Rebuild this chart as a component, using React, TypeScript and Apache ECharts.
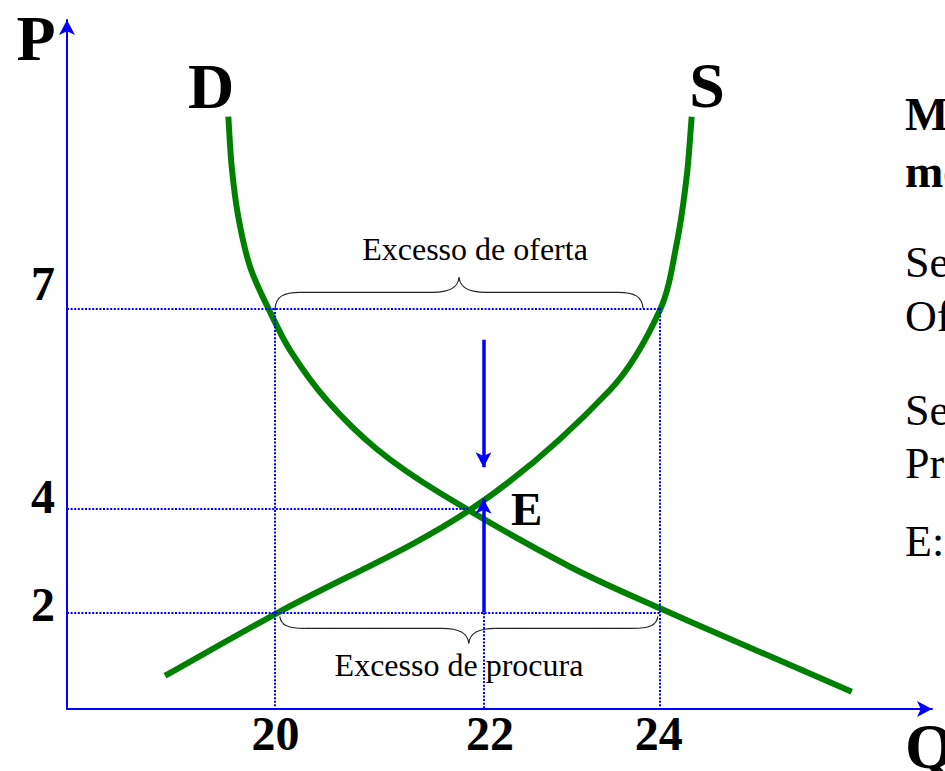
import React, { useEffect, useRef } from 'react';
import * as echarts from 'echarts';

// Quantity axis (schematic units 0..100) – tick labels and where they sit
const quantityTicks = ['20', '22', '24'];
const quantityTickPos = [24.05, 48.15, 68.5];
const quantityLabelPos = [24.1, 48.9, 68.4];

// Price axis (schematic units 0..100)
const priceTicks = ['7', '4', '2'];
const priceTickPos = [58.15, 29.13, 14.03];
const priceLabelPos = [61.76, 30.9, 15.17];

// Demand curve D
const demandCurve = [
  [18.65, 85.97], [19.04, 78.71], [19.8, 71.45], [21.16, 64.19], [23.27, 58.16],
  [25.78, 52.1], [30.02, 44.85], [35.8, 37.74], [43.12, 31.35], [58.15, 20.65],
  [68.55, 14.62], [90.72, 2.51],
];

// Supply curve S
const supplyCurve = [
  [11.33, 4.83], [24.24, 13.89], [46.82, 29.1], [62.77, 46.3], [68.55, 57.91],
  [70.49, 67.59], [71.64, 77.26], [72.22, 85.97],
];

// Equilibrium point E
const equilibrium = [46.4, 29.13];

// Adjustment arrows at Q = 22 (price-axis values: from, to)
const downArrow = [53.6, 35.1];
const upArrow = [14.03, 30.5];

// Braces (quantity-axis extent)
const supplyExcessBrace = [24.05, 66.6];
const demandExcessBrace = [24.6, 68.3];

const SERIF = "'Liberation Serif', 'DejaVu Serif', serif";
const BLUE = '#0000ff';
const GREEN = '#008000';

// Smooth curve through the points (tangent-length-limited cubic spline), drawn via api.coord
const curveSeries = (name: string, pts: number[][]) => ({
  name,
  type: 'custom',
  coordinateSystem: 'cartesian2d',
  data: pts,
  encode: { x: 0, y: 1 },
  z: 2,
  silent: true,
  renderItem: (params: any, api: any) => {
    if (params.dataIndex !== 0) return null;
    const P: number[][] = pts.map((p) => api.coord(p));
    const unit = (a: number[], b: number[]) => {
      const dx = b[0] - a[0];
      const dy = b[1] - a[1];
      const l = Math.hypot(dx, dy) || 1;
      return [dx / l, dy / l];
    };
    let d = `M${P[0][0]},${P[0][1]}`;
    for (let i = 0; i < P.length - 1; i++) {
      const p0 = P[i - 1] || P[i];
      const p1 = P[i];
      const p2 = P[i + 1];
      const p3 = P[i + 2] || P[i + 1];
      const len = Math.hypot(p2[0] - p1[0], p2[1] - p1[1]);
      const t1 = unit(p0, p2);
      const t2 = unit(p1, p3);
      const c1 = [p1[0] + (t1[0] * len) / 3, p1[1] + (t1[1] * len) / 3];
      const c2 = [p2[0] - (t2[0] * len) / 3, p2[1] - (t2[1] * len) / 3];
      d += ` C${c1[0]},${c1[1]} ${c2[0]},${c2[1]} ${p2[0]},${p2[1]}`;
    }
    return {
      type: 'path',
      shape: { pathData: d },
      style: { stroke: GREEN, lineWidth: 6, fill: 'none' },
    };
  },
});

export default function App() {
  const ref = useRef<HTMLDivElement>(null);

  useEffect(() => {
    const chart = echarts.init(ref.current!, null, { renderer: 'svg' });
    const [q20, q22, q24] = quantityTickPos;
    const [p7, p4, p2] = priceTickPos;

    const labelFont = { fontFamily: SERIF, fontWeight: 'bold' as const, fontSize: 48, color: '#000' };
    const guideStyle = { color: BLUE, width: 2, type: [2, 1.6] as number[] };

    chart.setOption({
      animation: false,
      grid: { left: 67, top: 20, right: 13, bottom: 62, containLabel: false },
      xAxis: {
        type: 'value', min: 0, max: 100,
        axisLine: { show: true, lineStyle: { color: BLUE, width: 2 }, symbol: ['none', 'arrow'], symbolSize: [12, 15] },
        axisTick: { show: false },
        splitLine: { show: false },
        axisLabel: {
          ...labelFont,
          margin: 0,
          customValues: quantityLabelPos,
          formatter: (v: number) => {
            const i = quantityLabelPos.indexOf(v);
            return i >= 0 ? quantityTicks[i] : '';
          },
        },
      },
      yAxis: {
        type: 'value', min: 0, max: 100,
        axisLine: { show: true, lineStyle: { color: BLUE, width: 2 }, symbol: ['none', 'arrow'], symbolSize: [12, 15] },
        axisTick: { show: false },
        splitLine: { show: false },
        axisLabel: {
          ...labelFont,
          margin: 12,
          customValues: priceLabelPos,
          formatter: (v: number) => {
            const i = priceLabelPos.indexOf(v);
            return i >= 0 ? priceTicks[i] : '';
          },
        },
      },
      series: [
        {
          name: 'guides', type: 'line', data: [], z: 1, silent: true,
          markLine: {
            silent: true, symbol: 'none', label: { show: false },
            lineStyle: guideStyle,
            emphasis: { disabled: true },
            data: [
              [{ coord: [0, p7] }, { coord: [q24, p7] }],
              [{ coord: [0, p4] }, { coord: [equilibrium[0], p4] }],
              [{ coord: [0, p2] }, { coord: [q24, p2] }],
              [{ coord: [q20, p7] }, { coord: [q20, 0] }],
              [{ coord: [q22, p4] }, { coord: [q22, 0] }],
              [{ coord: [q24, p7] }, { coord: [q24, 0] }],
            ],
          },
        },
        curveSeries('D', demandCurve),
        curveSeries('S', supplyCurve),
        {
          name: 'arrows', type: 'line', data: [], z: 3, silent: true,
          markLine: {
            silent: true, symbol: ['none', 'arrow'], symbolSize: [12, 15], label: { show: false },
            lineStyle: { color: BLUE, width: 3.5, type: 'solid' },
            emphasis: { disabled: true },
            data: [
              [{ coord: [q22, downArrow[0]] }, { coord: [q22, downArrow[1]] }],
              [{ coord: [q22, upArrow[0]] }, { coord: [q22, upArrow[1]] }],
            ],
          },
        },
      ],
    });

    const px = (x: number, y: number) => chart.convertToPixel({ gridIndex: 0 }, [x, y]) as number[];

    const braceStyle = { stroke: '#222', lineWidth: 1.1, fill: 'none' };
    const brace = (xa: number, xb: number, yv: number, dir: number, off: number, h1: number, h2: number) => {
      const [xL, y0raw] = px(xa, yv);
      const [xR] = px(xb, yv);
      const y0 = y0raw + dir * off;
      const ys = y0 + dir * h1;
      const yt = ys + dir * h2;
      const xm = (xL + xR) / 2;
      const r = 25;
      const t = 27;
      return [
        { type: 'bezierCurve', silent: true, shape: { x1: xL, y1: y0, x2: xL + r, y2: ys, cpx1: xL + 1, cpy1: y0 + dir * h1 * 0.75, cpx2: xL + r * 0.35, cpy2: ys }, style: braceStyle },
        { type: 'line', silent: true, shape: { x1: xL + r, y1: ys, x2: xm - t, y2: ys }, style: braceStyle },
        { type: 'bezierCurve', silent: true, shape: { x1: xm - t, y1: ys, x2: xm, y2: yt, cpx1: xm - t * 0.35, cpy1: ys, cpx2: xm - 1, cpy2: ys + dir * h2 * 0.3 }, style: braceStyle },
        { type: 'bezierCurve', silent: true, shape: { x1: xm, y1: yt, x2: xm + t, y2: ys, cpx1: xm + 1, cpy1: ys + dir * h2 * 0.3, cpx2: xm + t * 0.35, cpy2: ys }, style: braceStyle },
        { type: 'line', silent: true, shape: { x1: xm + t, y1: ys, x2: xR - r, y2: ys }, style: braceStyle },
        { type: 'bezierCurve', silent: true, shape: { x1: xR - r, y1: ys, x2: xR, y2: y0, cpx1: xR - r * 0.35, cpy1: ys, cpx2: xR - 1, cpy2: y0 + dir * h1 * 0.75 }, style: braceStyle },
      ];
    };

    const txt = (text: string, x: number, y: number, size: number, bold: boolean, align: string) => ({
      type: 'text', silent: true, x, y,
      style: {
        text, fill: '#000',
        font: `${bold ? 'bold ' : ''}${size}px ${SERIF}`,
        align, verticalAlign: 'middle', textAlign: align, textVerticalAlign: 'middle',
      },
    });

    chart.setOption({
      graphic: [
        ...brace(supplyExcessBrace[0], supplyExcessBrace[1], priceTickPos[0], -1, 0, 16, 15),
        ...brace(demandExcessBrace[0], demandExcessBrace[1], priceTickPos[2], 1, 4, 12, 15),
        txt('Excesso de oferta', 475, 249, 32, false, 'center'),
        txt('Excesso de procura', 459, 665, 32, false, 'center'),
        txt('P', 36, 38.5, 64, true, 'center'),
        txt('Q', 905, 746, 64, true, 'left'),
        txt('D', 211, 86.5, 64, true, 'center'),
        txt('S', 707, 85.5, 64, true, 'center'),
        txt('E', 511, 508.5, 47, true, 'left'),
        txt('Mecanismo de', 905, 114.5, 46, true, 'left'),
        txt('mercado', 905, 171, 46, true, 'left'),
        txt('Se P = 7: Excesso de', 905, 262.5, 44, false, 'left'),
        txt('Oferta', 905, 316, 44, false, 'left'),
        txt('Se P = 2: Excesso de', 905, 410.5, 44, false, 'left'),
        txt('Procura', 905, 463.5, 44, false, 'left'),
        txt('E: Equilíbrio', 905, 541.5, 44, false, 'left'),
      ],
    });

    return () => chart.dispose();
  }, []);

  return (
    <div
      ref={ref}
      style={{ position: 'absolute', left: 0, top: 0, width: 945, height: 771, background: '#fff' }}
    />
  );
}
